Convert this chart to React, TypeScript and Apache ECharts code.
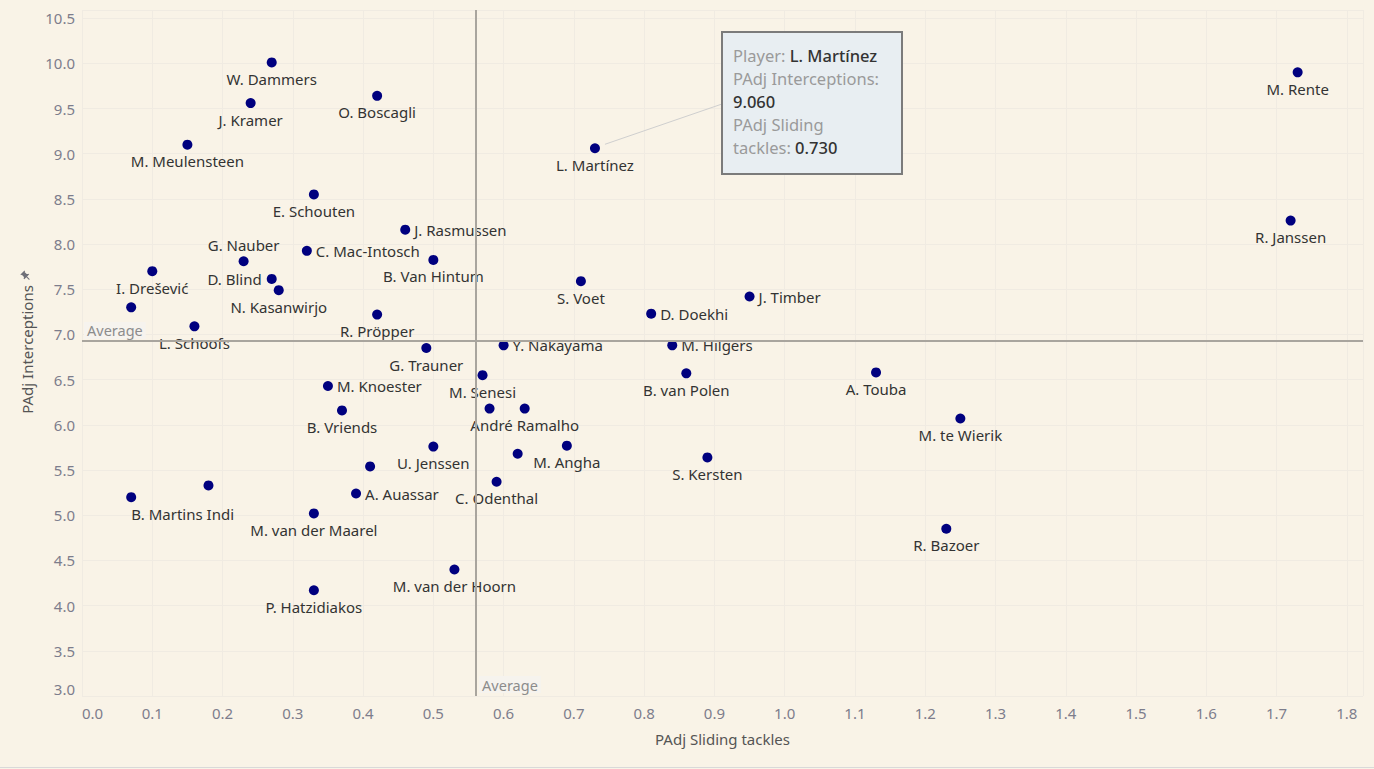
import React, { useEffect, useRef } from 'react';
import * as echarts from 'echarts';

// ---- data ----
const players = [
  'W. Dammers', 'O. Boscagli', 'J. Kramer', 'M. Meulensteen', 'E. Schouten',
  'J. Rasmussen', 'C. Mac-Intosch', 'G. Nauber', 'B. Van Hintum', 'I. Drešević',
  'D. Blind', 'N. Kasanwirjo', '', 'L. Schoofs', 'R. Pröpper',
  'G. Trauner', 'L. Martínez', 'S. Voet', 'J. Timber', 'D. Doekhi',
  'Y. Nakayama', 'M. Hilgers', 'M. Senesi', 'B. van Polen', 'A. Touba',
  '', 'André Ramalho', 'M. Angha', '', 'C. Odenthal',
  'S. Kersten', 'M. van der Hoorn', 'M. Knoester', 'B. Vriends', 'U. Jenssen',
  '', 'A. Auassar', 'B. Martins Indi', '', 'M. van der Maarel',
  'P. Hatzidiakos', 'M. Rente', 'R. Janssen', 'M. te Wierik', 'R. Bazoer',
];
const slidingTackles = [
  0.27, 0.42, 0.24, 0.15, 0.33,
  0.46, 0.32, 0.23, 0.50, 0.10,
  0.27, 0.28, 0.07, 0.16, 0.42,
  0.49, 0.73, 0.71, 0.95, 0.81,
  0.60, 0.84, 0.57, 0.86, 1.13,
  0.58, 0.63, 0.69, 0.62, 0.59,
  0.89, 0.53, 0.35, 0.37, 0.50,
  0.41, 0.39, 0.07, 0.18, 0.33,
  0.33, 1.73, 1.72, 1.25, 1.23,
];
const interceptions = [
  10.01, 9.64, 9.56, 9.10, 8.55,
  8.16, 7.925, 7.81, 7.825, 7.70,
  7.615, 7.49, 7.30, 7.09, 7.22,
  6.85, 9.06, 7.59, 7.42, 7.23,
  6.88, 6.88, 6.55, 6.57, 6.58,
  6.18, 6.18, 5.77, 5.68, 5.37,
  5.64, 4.40, 6.43, 6.16, 5.76,
  5.54, 5.24, 5.20, 5.33, 5.02,
  4.17, 9.90, 8.26, 6.07, 4.85,
];
const xTitle = 'PAdj Sliding tackles';
const yTitle = 'PAdj Interceptions';
const highlighted = 'L. Martínez';

// ---- label placement (styling) ----
const labelRight = ['J. Rasmussen', 'C. Mac-Intosch', 'J. Timber', 'D. Doekhi', 'Y. Nakayama', 'M. Hilgers', 'M. Knoester', 'A. Auassar'];
const labelTop = ['G. Nauber'];
const labelLeft = ['D. Blind'];
const labelBottomFromDot = ['B. Martins Indi'];

const BG = '#f9f3e7';
const GRID = '#f0ebe2';
const NAVY = '#00007f';
const FONT = '"Noto Sans", "Open Sans", sans-serif';
const AXIS_LABEL = '#7d7d8c';

const PIN_D = 'M16 9V4h1c.55 0 1-.45 1-1s-.45-1-1-1H7c-.55 0-1 .45-1 1s.45 1 1 1h1v5c0 1.66-1.34 3-3 3v2h5.97v7l1 1 1-1v-7H19v-2c-1.66 0-3-1.34-3-3z';
let pinRegistered = false;

function labelFor(name: string) {
  if (!name) return { show: false };
  if (labelRight.includes(name)) return { position: 'right', distance: 4 };
  if (labelTop.includes(name)) return { position: 'top', distance: 4 };
  if (labelLeft.includes(name)) return { position: 'left', distance: 5 };
  if (labelBottomFromDot.includes(name)) return { position: 'bottom', distance: 4, align: 'left' };
  return { position: 'bottom', distance: 4 };
}

export default function App() {
  const ref = useRef<HTMLDivElement>(null);

  useEffect(() => {
    if (!ref.current) return;
    if (!pinRegistered) {
      echarts.graphic.registerShape('pin', echarts.graphic.extendPath(PIN_D, {}) as any);
      pinRegistered = true;
    }
    const chart = echarts.init(ref.current, null, { renderer: 'svg' });

    const avgX = slidingTackles.reduce((a, b) => a + b, 0) / slidingTackles.length;
    const avgY = interceptions.reduce((a, b) => a + b, 0) / interceptions.length;

    const data = players.map((p, i) => ({
      name: p,
      value: [slidingTackles[i], interceptions[i]],
      label: labelFor(p),
    }));

    const onStep = (v: number, step: number) => Math.abs(v / step - Math.round(v / step)) < 1e-6;

    chart.setOption({
      animation: false,
      backgroundColor: BG,
      textStyle: { fontFamily: FONT },
      grid: { left: 82, right: 11, top: 10, bottom: 73, containLabel: false, outerBoundsMode: 'none' },
      xAxis: {
        type: 'value', min: 0, max: 1.823, interval: 0.1,
        name: xTitle, nameLocation: 'middle', nameGap: 35,
        nameTextStyle: { color: '#555555', fontSize: 15, fontFamily: FONT },
        axisLine: { show: false }, axisTick: { show: false },
        splitLine: { show: true, lineStyle: { color: GRID, width: 1 } },
        axisLabel: {
          color: AXIS_LABEL, fontSize: 15, margin: 9, fontFamily: FONT,
          alignMinLabel: 'left',
          formatter: (v: number) => (onStep(v, 0.1) ? v.toFixed(1) : ''),
        },
      },
      yAxis: {
        type: 'value', min: 3, max: 10.59, interval: 0.5,
        axisLine: { show: false }, axisTick: { show: false },
        splitLine: { show: true, lineStyle: { color: GRID, width: 1 } },
        axisLabel: {
          color: AXIS_LABEL, fontSize: 15, margin: 7, fontFamily: FONT,
          verticalAlignMinLabel: 'bottom',
          formatter: (v: number) => (onStep(v, 0.5) ? v.toFixed(1) : ''),
        },
      },
      series: [{
        type: 'scatter',
        symbol: 'circle',
        symbolSize: 10,
        itemStyle: { color: NAVY, opacity: 1 },
        emphasis: { disabled: true },
        label: {
          show: true, position: 'bottom', distance: 4,
          color: '#333333', fontSize: 15, fontFamily: FONT,
          formatter: '{b}',
        },
        labelLayout: { hideOverlap: false },
        data,
        markLine: {
          silent: true,
          symbol: ['none', 'none'],
          label: { show: false },
          lineStyle: { color: '#a9a59e', width: 2, type: 'solid', opacity: 1 },
          emphasis: { disabled: true },
          data: [{ xAxis: avgX }, { yAxis: avgY }],
        },
        z: 3,
      }],
    });

    // annotations anchored to data
    const hi = players.indexOf(highlighted);
    const pt = chart.convertToPixel({ gridIndex: 0 }, [slidingTackles[hi], interceptions[hi]]) as number[];
    const avgPx = chart.convertToPixel({ gridIndex: 0 }, [avgX, avgY]) as number[];
    const bottomPx = chart.convertToPixel({ gridIndex: 0 }, [0, 3]) as number[];
    const plotLeft = bottomPx[0];
    const plotBottom = bottomPx[1];

    const boxX = 722, boxY = 32, boxW = 180, boxH = 142;

    // measure y title to place pin
    const cvs = document.createElement('canvas').getContext('2d')!;
    cvs.font = `15px ${FONT}`;
    const titleW = cvs.measureText(yTitle).width;
    const titleCy = 349.5;

    chart.setOption({
      graphic: [
        // y axis title with pin
        {
          type: 'group', x: 27, y: titleCy, rotation: Math.PI / 2, z: 10,
          children: [
            {
              type: 'text', x: 0, y: 0,
              style: {
                text: yTitle, fill: '#555555', fontSize: 15, fontFamily: FONT,
                align: 'center', verticalAlign: 'middle',
              },
            },
            {
              type: 'group', x: titleW / 2 + 9, y: -1, rotation: -Math.PI / 4,
              children: [{
                type: 'pin', x: -6, y: -6, scaleX: 0.5, scaleY: 0.5,
                style: { fill: '#6f6f78' },
              }],
            },
          ],
        },
        // average labels
        {
          type: 'text', x: plotLeft + 2, y: avgPx[1] - 2, z: 10,
          style: {
            text: 'Average', fill: '#8c8c8c', fontSize: 14.5, fontFamily: FONT,
            verticalAlign: 'bottom', align: 'left',
            backgroundColor: '#f6f3ee', padding: [1, 3, 1, 3],
          },
        },
        {
          type: 'text', x: avgPx[0] + 2, y: plotBottom - 3, z: 10,
          style: {
            text: 'Average', fill: '#8c8c8c', fontSize: 14.5, fontFamily: FONT,
            verticalAlign: 'bottom', align: 'left',
            backgroundColor: '#f6f3ee', padding: [1, 3, 1, 3],
          },
        },
        // tooltip connector
        {
          type: 'line', z: 9,
          shape: { x1: pt[0] + 10, y1: pt[1] - 4, x2: boxX, y2: boxY + 72 },
          style: { stroke: '#cfcfcf', lineWidth: 1 },
        },
        // tooltip box
        {
          type: 'rect', z: 10,
          shape: { x: boxX, y: boxY, width: boxW, height: boxH },
          style: { fill: '#e8eef2', stroke: '#7b7b7b', lineWidth: 2 },
        },
        {
          type: 'text', z: 11, x: boxX + 11, y: boxY + 11.5,
          style: {
            text: [
              `{g|Player: }{b|${highlighted}}`,
              '{g|PAdj Interceptions:}',
              `{b|${interceptions[hi].toFixed(3)}}`,
              '{g|PAdj Sliding}',
              `{g|tackles: }{b|${slidingTackles[hi].toFixed(3)}}`,
            ].join('\n'),
            verticalAlign: 'top', align: 'left',
            fontFamily: FONT,
            rich: {
              g: { fill: '#9a9a9a', fontSize: 16.5, lineHeight: 23, fontFamily: FONT },
              b: { fill: '#333333', fontSize: 16.5, lineHeight: 23, fontFamily: FONT, fontWeight: 500 },
            },
          },
        },
        // bottom border
        {
          type: 'line', z: 10,
          shape: { x1: 0, y1: 767.5, x2: 1374, y2: 767.5 },
          style: { stroke: '#d9d9d9', lineWidth: 1 },
        },
      ],
    });

    return () => chart.dispose();
  }, []);

  return (
    <div
      ref={ref}
      style={{ position: 'fixed', left: 0, top: 0, width: 1374, height: 769, background: BG }}
    />
  );
}
